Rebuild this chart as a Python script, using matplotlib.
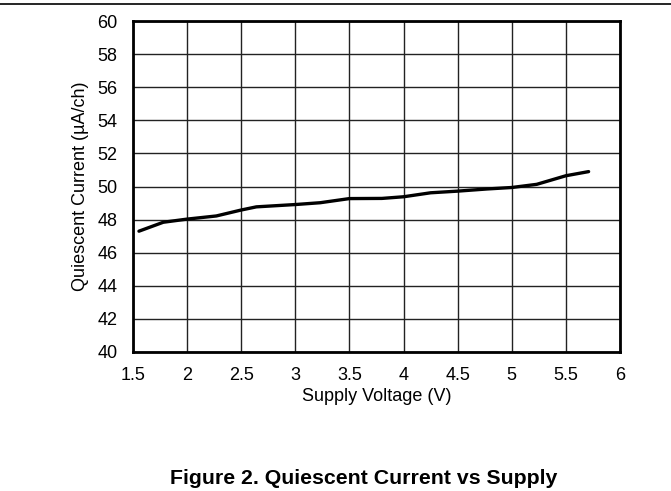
import matplotlib
matplotlib.use("Agg")
import matplotlib.pyplot as plt
from matplotlib.lines import Line2D

plt.rcParams['font.family'] = ['Liberation Sans', 'DejaVu Sans']

# supply voltage (V) and quiescent current (uA/ch)
supply_v = [1.555, 1.78, 2.0, 2.27, 2.5, 2.64, 3.0, 3.23, 3.5, 3.8,
            4.0, 4.25, 4.5, 4.77, 5.0, 5.23, 5.5, 5.71]
iq_ua = [47.3, 47.84, 48.03, 48.22, 48.58, 48.77, 48.91, 49.02, 49.27, 49.28,
         49.38, 49.62, 49.72, 49.85, 49.94, 50.13, 50.65, 50.9]

x_ticks = [1.5, 2, 2.5, 3, 3.5, 4, 4.5, 5, 5.5, 6]
x_labels = ['1.5', '2', '2.5', '3', '3.5', '4', '4.5', '5', '5.5', '6']
y_ticks = list(range(40, 61, 2))

W, H = 671, 491
fig = plt.figure(figsize=(W / 100, H / 100), dpi=100)
ax = fig.add_axes([133 / W, 1 - 352 / H, 487 / W, 331 / H])

ax.plot(supply_v, iq_ua, color='black', lw=2.4, solid_joinstyle='round',
        solid_capstyle='round', zorder=3)

ax.set_xlim(1.5, 6)
ax.set_ylim(40, 60)
ax.set_xticks(x_ticks)
ax.set_xticklabels(x_labels)
ax.set_yticks(y_ticks)
ax.grid(True, color='#222222', lw=1.0)
ax.set_axisbelow(True)
ax.tick_params(length=0, labelsize=13, pad=11)
for s in ax.spines.values():
    s.set_linewidth(2.0)
    s.set_color('black')

ax.set_xlabel('Supply Voltage (V)', fontsize=13, labelpad=3)
ax.set_ylabel('Quiescent Current (µA/ch)', fontsize=13, labelpad=6)

fig.text(170 / W, 1 - 484 / H, 'Figure 2. Quiescent Current vs Supply',
         ha='left', va='baseline', fontsize=15.3, fontweight='bold')

# rule line along the top of the page
fig.add_artist(Line2D([0, 1], [1 - 4 / H, 1 - 4 / H], color='black', lw=1.2))

fig.savefig('out.png', dpi=100)
